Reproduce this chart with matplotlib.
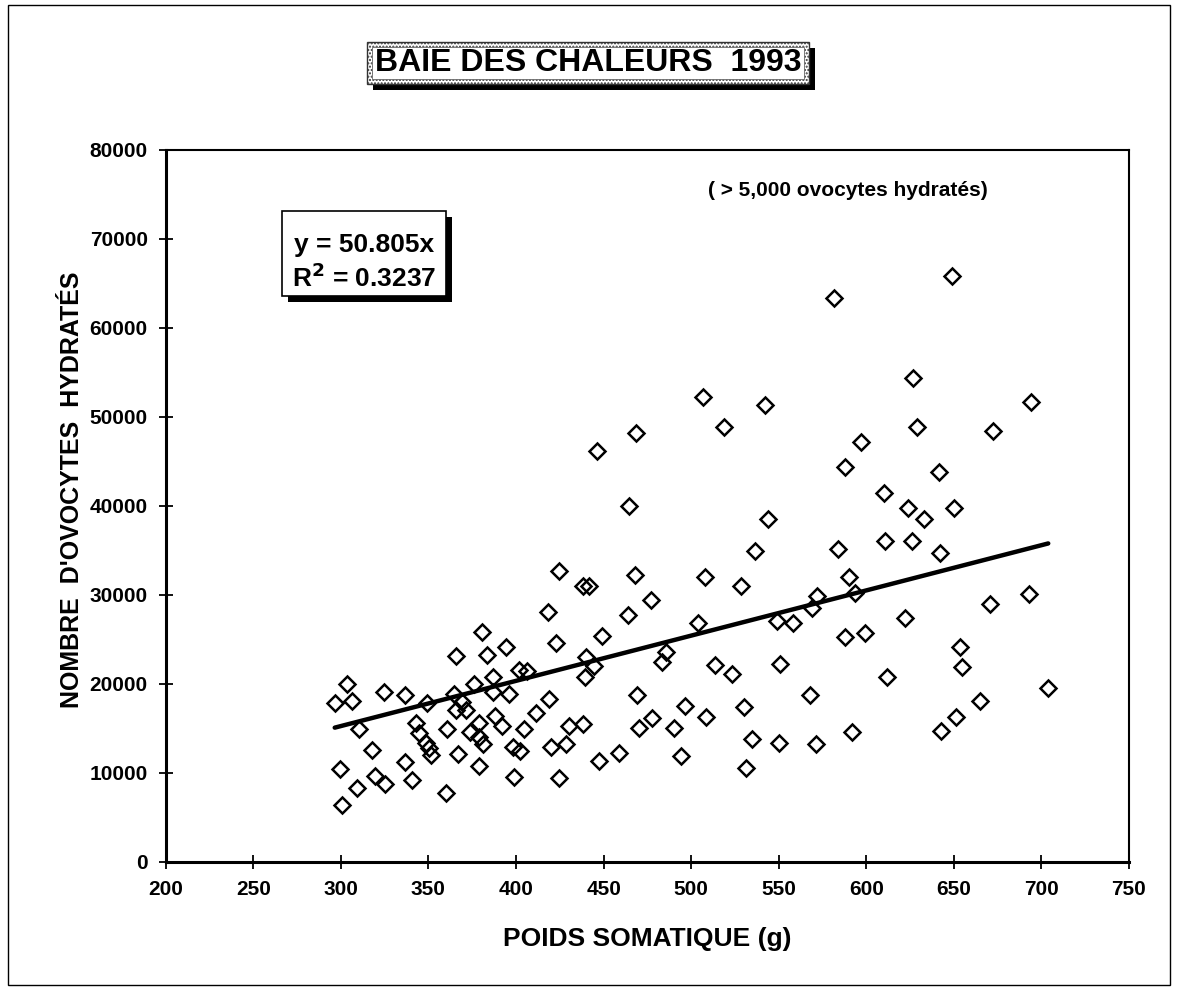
import matplotlib.pyplot as plt
from matplotlib.patches import Rectangle
from matplotlib.ticker import MultipleLocator
import numpy as np

plt.rcParams['font.family'] = ['Liberation Sans', 'DejaVu Sans']
plt.rcParams['font.weight'] = 'bold'
plt.rcParams['hatch.color'] = '#888888'

W, H = 1177, 988

# poids somatique (g)
poids = [296.5, 303.5, 306.5, 324.8, 336.8, 349.3, 364.8, 365.8, 383.5, 394.4,
         376.2, 386.7, 401.9, 406.4, 369.2, 365.8, 371.5, 386.7, 395.8, 310.3,
         343.0, 344.9, 348.7, 350.6, 351.5, 317.7, 299.3, 336.9, 319.6, 325.0,
         309.4, 340.7, 300.5, 360.1, 360.5, 367.1, 379.1, 373.8, 379.1, 378.7,
         381.0, 388.2, 392.0, 398.1, 402.3, 398.6, 404.7, 380.4, 464.6, 424.3,
         438.5, 441.5, 468.0, 507.7, 528.5, 418.2, 463.8, 477.3, 423.0, 449.2,
         504.0, 440.2, 444.6, 439.5, 485.8, 483.6, 513.6, 523.4, 419.0, 469.3,
         411.7, 430.4, 438.5, 470.3, 477.9, 490.2, 496.5, 508.3, 530.4, 420.0,
         428.5, 447.5, 458.9, 494.0, 531.5, 424.5, 506.7, 518.7, 468.5, 446.5,
         648.8, 581.4, 626.6, 628.8, 597.1, 588.0, 641.6, 610.2, 541.9, 623.7,
         633.2, 650.3, 543.9, 536.7, 583.8, 610.8, 626.2, 642.3, 590.3, 572.1,
         593.7, 569.0, 549.0, 558.2, 622.2, 587.6, 599.0, 550.6, 653.6, 654.5,
         612.1, 665.0, 567.7, 534.8, 550.0, 571.3, 592.0, 642.5, 651.3, 693.8,
         672.5, 670.6, 692.9, 703.9]
# nombre d'ovocytes hydratés
ovocytes = [17870, 19930, 18090, 19100, 18730, 17870, 18810, 23150, 23230, 24100,
            19970, 20790, 21540, 21460, 17980, 17050, 17050, 19100, 18810, 14880,
            15620, 14430, 13300, 12740, 11990, 12550, 10420, 11170, 9630, 8730,
            8310, 9180, 6340, 7750, 14910, 12070, 10790, 14610, 15550, 13980,
            13190, 16370, 15300, 12920, 12470, 9480, 14900, 25840, 39970, 32660,
            30980, 31000, 32210, 31950, 30980, 28090, 27720, 29400, 24540, 25390,
            26800, 23030, 21990, 20720, 23530, 22470, 22150, 21090, 18250, 18730,
            16670, 15280, 15440, 14990, 16180, 14990, 17490, 16250, 17420, 12920,
            13220, 11350, 12180, 11880, 10490, 9400, 52200, 48880, 48170, 46180,
            65840, 63300, 54350, 48880, 47190, 44310, 43820, 41400, 51280, 39700,
            38470, 39700, 38500, 34940, 35100, 36070, 36070, 34720, 31950, 29850,
            30220, 28470, 27070, 26850, 27340, 25210, 25730, 22210, 24160, 21910,
            20750, 18100, 18730, 13820, 13300, 13190, 14570, 14720, 16220, 51690,
            48390, 28960, 30080, 19550]

pente = 50.805
r2 = 0.3237

fig = plt.figure(figsize=(W / 100, H / 100), dpi=100)
ax = fig.add_axes([0.1408, 0.1278, 0.8184, 0.7207])
ax.set_zorder(0)


def px_rect(x0, y0, x1, y1, **kw):
    # rectangle given in pixel coords (y from top)
    r = Rectangle((x0 / W, 1 - y1 / H), (x1 - x0) / W, (y1 - y0) / H,
                  transform=fig.transFigure, **kw)
    fig.add_artist(r)
    return r


ax.plot(poids, ovocytes, linestyle='none', marker='D', markersize=8,
        markerfacecolor='none', markeredgecolor='black', markeredgewidth=1.8)

xl = np.array([min(poids), max(poids)])
ax.plot(xl, pente * xl, color='black', lw=3.2, solid_capstyle='round')

ax.set_xlim(200, 750)
ax.set_ylim(0, 80000)
ax.xaxis.set_major_locator(MultipleLocator(50))
ax.yaxis.set_major_locator(MultipleLocator(10000))
ax.tick_params(direction='inout', length=10, width=1.3, labelsize=15, pad=8)
for lab in ax.get_xticklabels() + ax.get_yticklabels():
    lab.set_fontweight('bold')
for s in ['left', 'bottom']:
    ax.spines[s].set_linewidth(2.2)
for s in ['top', 'right']:
    ax.spines[s].set_linewidth(1.5)

ax.set_xlabel('POIDS SOMATIQUE (g)', fontsize=19, fontweight='bold', labelpad=20)
ax.set_ylabel("NOMBRE  D'OVOCYTES  HYDRATÉS", fontsize=18, fontweight='bold')
ax.yaxis.set_label_coords(-0.085, 0.522)

fig.text(848 / W, 1 - 190 / H, '( > 5,000 ovocytes hydratés)',
         ha='center', va='center', fontsize=15, fontweight='bold', zorder=10)

# equation box with shadow
px_rect(288, 217, 452, 302, facecolor='black', edgecolor='none', zorder=5)
px_rect(282, 211, 446, 296, facecolor='white', edgecolor='black', lw=1.2, zorder=6)
fig.text(364 / W, 1 - 245 / H, 'y = 50.805x', ha='center', va='center',
         fontsize=19, fontweight='bold', zorder=7)
fig.text(364 / W, 1 - 278 / H, 'R$^{\\mathbf{2}}$ = ' + f'{r2:.4f}', ha='center', va='center',
         fontsize=19, fontweight='bold', zorder=7)

# title box with shadow
px_rect(373, 48, 815, 90, facecolor='black', edgecolor='none', zorder=5)
px_rect(367, 42, 809, 84, facecolor='white', edgecolor='#333333', lw=1.0,
        hatch='.....', zorder=6)
px_rect(372, 47, 804, 79, facecolor='white', edgecolor='#666666', lw=0.6, zorder=6.5)
fig.text(588 / W, 1 - 63 / H, 'BAIE DES CHALEURS  1993', ha='center', va='center',
         fontsize=23, fontweight='bold', zorder=7)

# page border
px_rect(8, 5, 1170, 985, facecolor='none', edgecolor='black', lw=1.0, zorder=1)

plt.savefig('out.png', dpi=100)
